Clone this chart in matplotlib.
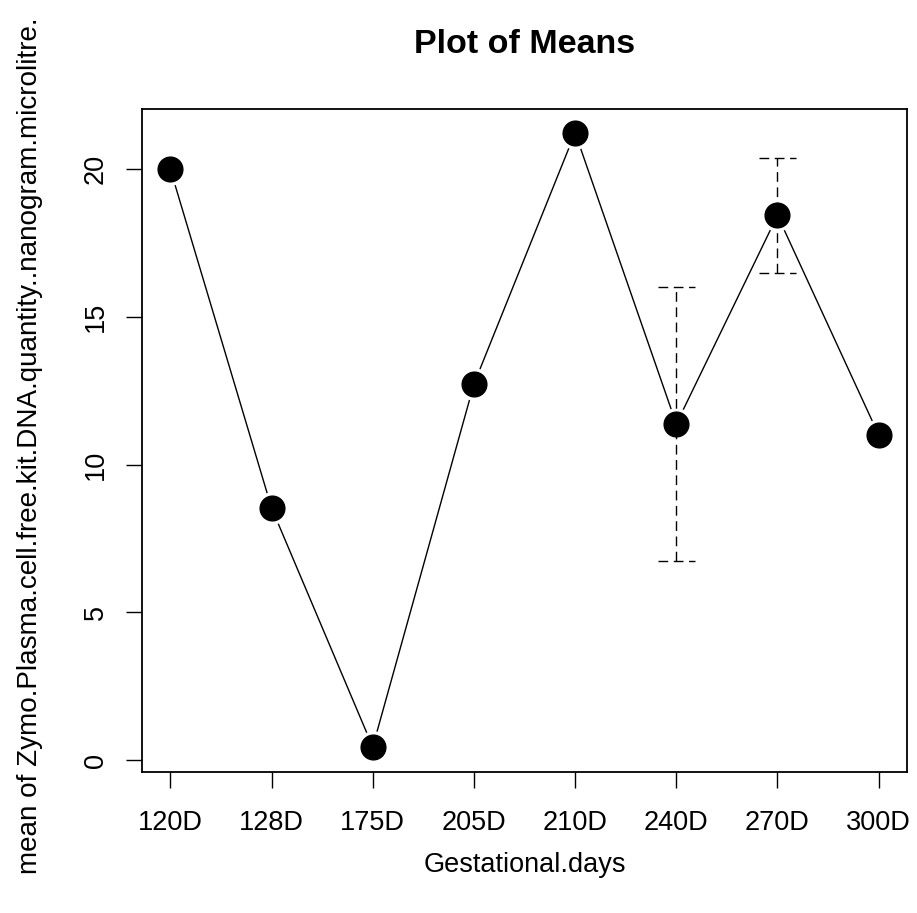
import numpy as np
import matplotlib
import matplotlib.pyplot as plt

matplotlib.rcParams['font.family'] = ['Liberation Sans', 'DejaVu Sans']

# data
groups = ['120D', '128D', '175D', '205D', '210D', '240D', '270D', '300D']
means = [20.0, 8.54, 0.45, 12.73, 21.24, 11.38, 18.44, 11.01]
# standard errors (only two groups have a visible bar)
se = [0, 0, 0, 0, 0, 4.63, 1.94, 0]

x = np.arange(1, len(groups) + 1)
means = np.array(means)
se = np.array(se)

fig = plt.figure(figsize=(9.17, 9.13), dpi=100)
ax = fig.add_axes([0.1549, 0.1544, 0.8342, 0.7259])

# connecting line, with white halo around points like R's type="b"
ax.plot(x, means, color='black', lw=1.0, zorder=1)
ax.plot(x, means, 'o', ms=23.5, color='white', mec='none', zorder=2)

# dashed error bars
has = se > 0
cap = 0.18
ax.vlines(x[has], means[has] - se[has], means[has] + se[has], color='black',
          lw=1.0, linestyles=(0, (7, 4)), zorder=3)
ax.hlines(means[has] + se[has], x[has] - cap, x[has] + cap, color='black',
          lw=1.0, linestyles=(0, (7, 4)), zorder=3)
ax.hlines(means[has] - se[has], x[has] - cap, x[has] + cap, color='black',
          lw=1.0, linestyles=(0, (7, 4)), zorder=3)

ax.plot(x, means, 'o', ms=17.8, color='black', zorder=4)

ax.set_xlim(0.72, 8.28)
ax.set_ylim(-0.40, 22.03)
ax.set_xticks(x)
ax.set_xticklabels(groups)
ax.set_yticks([0, 5, 10, 15, 20])
ax.set_yticklabels(['0', '5', '10', '15', '20'], rotation=90, va='center')

ax.tick_params(axis='both', labelsize=19.5, length=11.5, width=1.0, direction='out')
ax.tick_params(axis='x', pad=16)
ax.tick_params(axis='y', pad=12.5)
for s in ax.spines.values():
    s.set_linewidth(1.3)

ax.set_title('Plot of Means', fontsize=24.5, fontweight='bold',
             y=1.0845, va='center')

ax.set_xlabel('Gestational.days', fontsize=19.5)
ax.xaxis.set_label_coords(0.5, -0.140)
ax.xaxis.label.set_verticalalignment('center')
ax.set_ylabel('mean of Zymo.Plasma.cell.free.kit.DNA.quantity..nanogram.microlitre.',
              fontsize=20.1)
ax.yaxis.set_label_coords(-0.1464, 0.493)
ax.yaxis.label.set_verticalalignment('center')

fig.savefig('out.png', dpi=100)
